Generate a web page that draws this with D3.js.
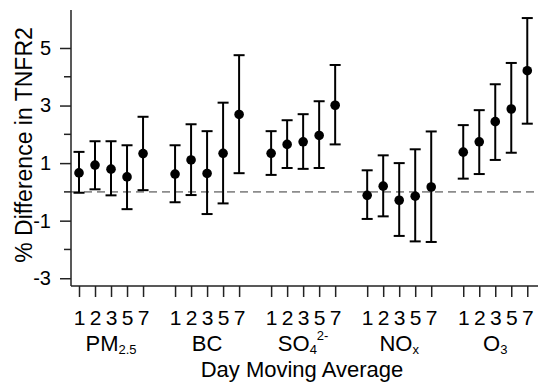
<!DOCTYPE html>
<html>
<head>
<meta charset="utf-8">
<script src="https://cdn.jsdelivr.net/npm/d3@7"></script>
<style>
  html, body { margin: 0; padding: 0; background: #fff; }
  text { font-family: "Liberation Sans", Arial, sans-serif; fill: #000; }
</style>
</head>
<body>
<div id="canvas"></div>
<script>
// Pollutant groups (base name, subscript, superscript).
const pollutants = ["PM", "BC", "SO", "NO", "O"];
const pollutantSub = ["2.5", "", "4", "x", "3"];
const pollutantSup = ["", "", "2-", "", ""];
// Moving-average lags inside each group.
const lags = ["1", "2", "3", "5", "7"];

// Estimates and 95% limits, listed group by group, lag by lag.
const estimate = [0.66, 0.93, 0.79, 0.52, 1.33,
                  0.62, 1.11, 0.64, 1.34, 2.69,
                  1.34, 1.65, 1.74, 1.96, 3.01,
                  -0.12, 0.20, -0.29, -0.15, 0.17,
                  1.38, 1.74, 2.44, 2.88, 4.21];
const lower = [-0.03, 0.09, -0.12, -0.60, 0.06,
               -0.36, -0.11, -0.77, -0.40, 0.65,
               0.59, 0.83, 0.80, 0.83, 1.65,
               -0.94, -0.85, -1.53, -1.72, -1.74,
               0.46, 0.62, 1.11, 1.36, 2.37];
const upper = [1.39, 1.76, 1.76, 1.62, 2.61,
               1.62, 2.35, 2.11, 3.10, 4.75,
               2.11, 2.49, 2.70, 3.15, 4.41,
               0.75, 1.27, 1.00, 1.48, 2.10,
               2.32, 2.84, 3.74, 4.48, 6.04];

// Y axis ticks.
const majorTicks = [-3, -1, 1, 3, 5];
const minorTicks = [-2, 0, 2, 4];

const w = 540, h = 388;
const plotLeft = 71, plotRight = 538, plotTop = 10, plotBottom = 286;

const svg = d3.select("#canvas")
    .append("svg")
    .attr("width", w)
    .attr("height", h);

// Each group takes five slots plus one empty slot.
const data = estimate.map((d, i) => ({
    est: d,
    lo: lower[i],
    hi: upper[i],
    group: Math.floor(i / lags.length),
    lag: i % lags.length
}));
const pos = d => d.group * (lags.length + 1) + d.lag;

const xScale = d3.scaleLinear()
    .domain([-0.5, 28.67])
    .range([plotLeft, plotRight]);

const yScale = d3.scaleLinear()
    .domain([-3.27, 6.32])
    .range([plotBottom, plotTop]);

// Reference line at zero.
svg.append("line")
    .attr("x1", plotLeft).attr("x2", plotRight)
    .attr("y1", yScale(0)).attr("y2", yScale(0))
    .attr("stroke", "#8c8c8c")
    .attr("stroke-width", 1.8)
    .attr("stroke-dasharray", "8,5");

// Y axis: labelled odd ticks, short even ticks.
const yAxis = svg.append("g")
    .attr("transform", `translate(${plotLeft},0)`)
    .call(d3.axisLeft(yScale)
        .tickValues(majorTicks)
        .tickSize(11)
        .tickPadding(9)
        .tickSizeOuter(0)
        .tickFormat(d => String(d)));
yAxis.append("g")
    .selectAll("line")
    .data(minorTicks)
    .join("line")
    .attr("x1", -7).attr("x2", 0)
    .attr("y1", d => yScale(d)).attr("y2", d => yScale(d));

yAxis.select(".domain").attr("d", `M0,${plotTop}V${plotBottom}`)
    .attr("stroke", "#222").attr("stroke-width", 1.5);
yAxis.selectAll("line").attr("stroke", "#222").attr("stroke-width", 1.5);
yAxis.selectAll("text")
    .attr("font-size", 20)
    .attr("fill", "#000");

// X axis with one tick per estimate.
const xAxis = svg.append("g")
    .attr("transform", `translate(0,${plotBottom})`)
    .call(d3.axisBottom(xScale)
        .tickValues(data.map(pos))
        .tickSize(11)
        .tickSizeOuter(0)
        .tickPadding(13)
        .tickFormat((v, i) => lags[i % lags.length]));
xAxis.select(".domain").attr("d", `M${plotLeft},0H${plotRight}`)
    .attr("stroke", "#222").attr("stroke-width", 1.5);
xAxis.selectAll("line").attr("stroke", "#222").attr("stroke-width", 1.5);
xAxis.selectAll("text").attr("font-size", 21).attr("fill", "#000");

// Group labels with sub/superscripts.
const groupLabels = svg.append("g")
    .selectAll("text")
    .data(pollutants)
    .join("text")
    .attr("x", (d, g) => xScale(g * (lags.length + 1) + 2))
    .attr("y", 351)
    .attr("text-anchor", "middle")
    .attr("font-size", 22);
groupLabels.append("tspan").text(d => d);
groupLabels.filter((d, g) => pollutantSub[g] !== "")
    .append("tspan")
    .attr("font-size", 13)
    .attr("dy", 3)
    .text(d => pollutantSub[pollutants.indexOf(d)]);
groupLabels.filter((d, g) => pollutantSup[g] !== "")
    .append("tspan")
    .attr("font-size", 13)
    .attr("dy", -14)
    .text(d => pollutantSup[pollutants.indexOf(d)]);

// Axis titles.
svg.append("text")
    .attr("x", 302)
    .attr("y", 377)
    .attr("text-anchor", "middle")
    .attr("font-size", 22)
    .text("Day Moving Average");

svg.append("text")
    .attr("transform", "translate(32,145) rotate(-90)")
    .attr("text-anchor", "middle")
    .attr("font-size", 23)
    .text("% Difference in TNFR2");

// Error bars and caps.
const bars = svg.append("g")
    .selectAll("g")
    .data(data)
    .join("g")
    .attr("stroke", "#000")
    .attr("stroke-width", 2);
bars.append("line")
    .attr("x1", d => xScale(pos(d))).attr("x2", d => xScale(pos(d)))
    .attr("y1", d => yScale(d.lo)).attr("y2", d => yScale(d.hi));
bars.append("line")
    .attr("x1", d => xScale(pos(d)) - 5.5).attr("x2", d => xScale(pos(d)) + 5.5)
    .attr("y1", d => yScale(d.hi)).attr("y2", d => yScale(d.hi));
bars.append("line")
    .attr("x1", d => xScale(pos(d)) - 5.5).attr("x2", d => xScale(pos(d)) + 5.5)
    .attr("y1", d => yScale(d.lo)).attr("y2", d => yScale(d.lo));

// Point estimates.
svg.append("g")
    .selectAll("circle")
    .data(data)
    .join("circle")
    .attr("cx", d => xScale(pos(d)))
    .attr("cy", d => yScale(d.est))
    .attr("r", 4.8)
    .attr("fill", "#000");
</script>
</body>
</html>
